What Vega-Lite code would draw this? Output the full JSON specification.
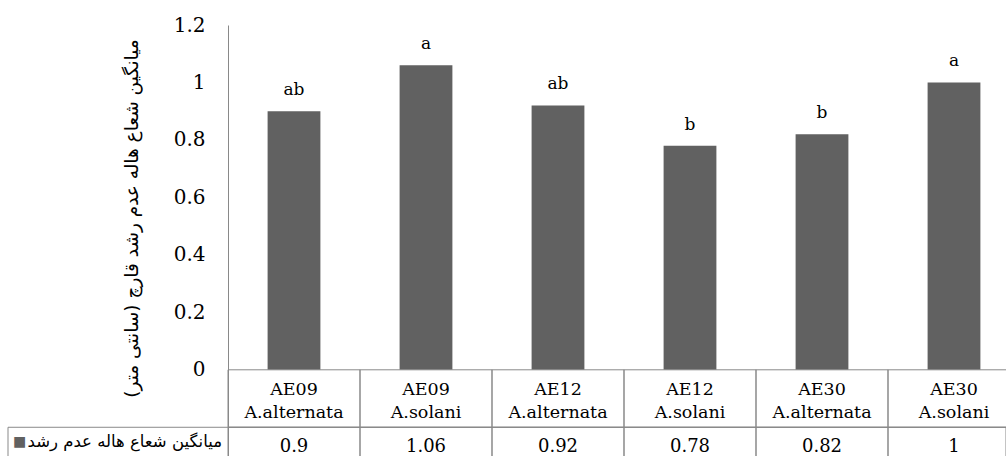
{
  "$schema": "https://vega.github.io/schema/vega-lite/v6.json",
  "autosize": {"type": "none"},
  "padding": {"left": 8, "top": 25, "right": 0, "bottom": 0},
  "width": 998,
  "height": 431,
  "config": {"view": {"stroke": null}},
  "datasets": {
    "bars": [
      {"group": "AE09 A.alternata", "strain": "AE09", "pathogen": "A.alternata", "value": 0.9, "letter": "ab"},
      {"group": "AE09 A.solani", "strain": "AE09", "pathogen": "A.solani", "value": 1.06, "letter": "a"},
      {"group": "AE12 A.alternata", "strain": "AE12", "pathogen": "A.alternata", "value": 0.92, "letter": "ab"},
      {"group": "AE12 A.solani", "strain": "AE12", "pathogen": "A.solani", "value": 0.78, "letter": "b"},
      {"group": "AE30 A.alternata", "strain": "AE30", "pathogen": "A.alternata", "value": 0.82, "letter": "b"},
      {"group": "AE30 A.solani", "strain": "AE30", "pathogen": "A.solani", "value": 1, "letter": "a"}
    ],
    "legend": [{"label": "میانگین شعاع هاله عدم رشد"}]
  },
  "data": {"name": "bars"},
  "layer": [
    {
      "mark": {"type": "bar", "color": "#616161", "width": {"band": 0.4}},
      "encoding": {
        "x": {"field": "group", "type": "nominal", "sort": null, "scale": {"range": [220, 1012], "paddingInner": 0, "paddingOuter": 0}, "axis": null},
        "y": {
          "field": "value", "type": "quantitative",
          "title": "میانگین شعاع هاله عدم رشد قارچ (سانتی متر)",
          "scale": {"domain": [-0.3, 1.2], "nice": false, "zero": false},
          "axis": {
            "values": [0, 0.2, 0.4, 0.6, 0.8, 1, 1.2], "format": "~g",
            "ticks": false, "grid": false, "offset": -220,
            "domainColor": "#898989",
            "labelFont": "DejaVu Serif", "labelFontSize": 20, "labelColor": "#000", "labelPadding": 23,
            "titleFont": "DejaVu Sans", "titleFontSize": 18.5, "titleFontWeight": "normal", "titleColor": "#000",
            "titleX": -97, "titleY": 193, "titleBaseline": "middle", "titleAngle": -90
          }
        }
      }
    },
    {
      "mark": {"type": "text", "baseline": "alphabetic", "dy": -16, "font": "DejaVu Serif", "fontSize": 17, "color": "#000"},
      "encoding": {
        "x": {"field": "group", "type": "nominal", "sort": null},
        "y": {"field": "value", "type": "quantitative", "title": "میانگین شعاع هاله عدم رشد قارچ (سانتی متر)"},
        "text": {"field": "letter"}
      }
    },
    {
      "mark": {"type": "rect", "filled": false, "stroke": "#898989", "strokeWidth": 1},
      "encoding": {
        "x": {"field": "group", "type": "nominal", "sort": null},
        "y": {"datum": 0, "type": "quantitative"},
        "y2": {"datum": -0.2}
      }
    },
    {
      "mark": {"type": "rect", "filled": false, "stroke": "#898989", "strokeWidth": 1},
      "encoding": {
        "x": {"field": "group", "type": "nominal", "sort": null},
        "y": {"datum": -0.2, "type": "quantitative"},
        "y2": {"datum": -0.31}
      }
    },
    {
      "data": {"name": "legend"},
      "mark": {"type": "rect", "filled": false, "stroke": "#898989", "strokeWidth": 1, "x2Offset": 4},
      "encoding": {
        "y": {"datum": -0.2, "type": "quantitative"},
        "y2": {"datum": -0.31}
      }
    },
    {
      "mark": {"type": "text", "baseline": "alphabetic", "font": "DejaVu Serif", "fontSize": 17.5, "color": "#000"},
      "encoding": {
        "x": {"field": "group", "type": "nominal", "sort": null},
        "y": {"datum": -0.087, "type": "quantitative"},
        "text": {"field": "strain"}
      }
    },
    {
      "mark": {"type": "text", "baseline": "alphabetic", "font": "DejaVu Serif", "fontSize": 17.5, "color": "#000"},
      "encoding": {
        "x": {"field": "group", "type": "nominal", "sort": null},
        "y": {"datum": -0.167, "type": "quantitative"},
        "text": {"field": "pathogen"}
      }
    },
    {
      "mark": {"type": "text", "baseline": "alphabetic", "font": "DejaVu Serif", "fontSize": 18, "color": "#000"},
      "encoding": {
        "x": {"field": "group", "type": "nominal", "sort": null},
        "y": {"datum": -0.285, "type": "quantitative"},
        "text": {"field": "value", "type": "quantitative", "format": "~g"}
      }
    },
    {
      "data": {"name": "legend"},
      "mark": {"type": "text", "baseline": "middle", "align": "right", "dx": -6, "font": "DejaVu Sans", "fontSize": 16.5, "color": "#000"},
      "encoding": {
        "x": {"datum": "AE09 A.alternata", "type": "nominal", "bandPosition": 0},
        "y": {"datum": -0.25, "type": "quantitative"},
        "text": {"field": "label"}
      }
    },
    {
      "data": {"name": "legend"},
      "mark": {"type": "text", "baseline": "middle", "align": "left", "dx": -215, "font": "DejaVu Sans", "fontSize": 14, "color": "#616161", "text": "■"},
      "encoding": {
        "x": {"datum": "AE09 A.alternata", "type": "nominal", "bandPosition": 0},
        "y": {"datum": -0.25, "type": "quantitative"}
      }
    }
  ]
}
